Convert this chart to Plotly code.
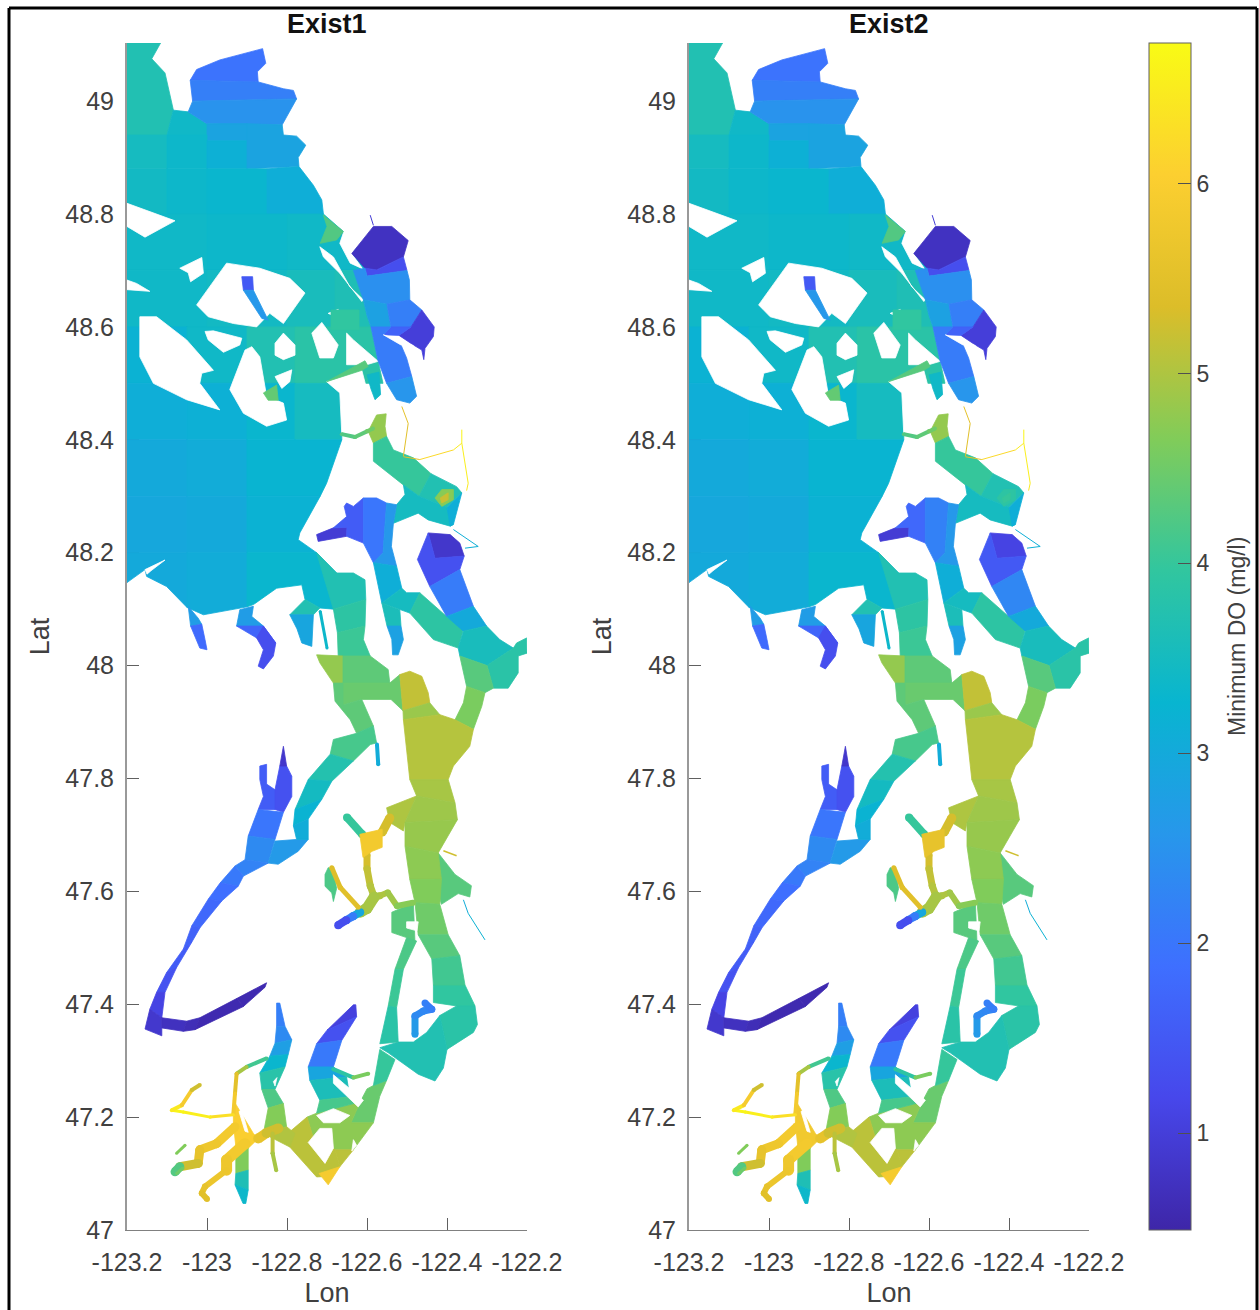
import plotly.graph_objects as go
from plotly.colors import sample_colorscale

# ---------- colour scale and axes values ----------
PARULA = ["rgb(62,38,168)", "rgb(71,71,235)", "rgb(62,111,255)", "rgb(39,151,235)", "rgb(8,181,208)",
          "rgb(49,198,159)", "rgb(129,204,89)", "rgb(220,189,41)", "rgb(252,207,48)", "rgb(249,251,21)"]
DO_MIN, DO_MAX = 0.49, 6.74
LON_TICKS = [-123.2, -123, -122.8, -122.6, -122.4, -122.2]
LON_LABELS = ["-123.2", "-123", "-122.8", "-122.6", "-122.4", "-122.2"]
LAT_TICKS = [47, 47.2, 47.4, 47.6, 47.8, 48, 48.2, 48.4, 48.6, 48.8, 49]
LAT_LABELS = ["47", "47.2", "47.4", "47.6", "47.8", "48", "48.2", "48.4", "48.6", "48.8", "49"]
DO_TICKS = [1, 2, 3, 4, 5, 6]
PANELS = ["Exist1", "Exist2"]

# ---------- water regions: (minimum DO, outline in lon/lat) ----------
GEORGIA = [
 (3.7, [(-123.2,49.103),(-123.116,49.103),(-123.138,49.075),(-123.105,49.05),(-123.084,48.984),(-123.1,48.94),(-123.2,48.94)]),
 (3.4, [(-123.1,48.94),(-123.084,48.984),(-123.047,48.981),(-123.0,48.96),(-123.0,48.94)]),
 (1.95,[(-123.042,49.037),(-123.026,49.056),(-122.968,49.073),(-122.861,49.093),(-122.853,49.067),(-122.874,49.052),(-122.872,49.034)]),
 (2.15,[(-123.042,49.037),(-122.872,49.034),(-122.809,49.022),(-122.784,49.019),(-122.776,49.004),(-123.036,49.0)]),
 (2.5, [(-123.036,49.0),(-122.776,49.004),(-122.812,48.958),(-123.0,48.96),(-123.047,48.981)]),
 (2.85,[(-123.0,48.96),(-122.9,48.96),(-122.9,48.93),(-123.0,48.93)]),
 (3.5, [(-123.2,48.94),(-123.1,48.94),(-123.1,48.88),(-123.2,48.88)]),
 (3.35,[(-123.1,48.94),(-123.0,48.94),(-123.0,48.88),(-123.1,48.88)]),
 (3.15,[(-123.0,48.93),(-122.9,48.93),(-122.9,48.88),(-123.0,48.88)]),
 (2.85,[(-122.9,48.96),(-122.812,48.958),(-122.809,48.94),(-122.776,48.938),(-122.753,48.922),(-122.772,48.9),(-122.77,48.884),(-122.9,48.88)]),
 (3.45,[(-123.2,48.88),(-123.1,48.88),(-123.1,48.8),(-123.2,48.8)]),
 (3.35,[(-123.1,48.88),(-123.0,48.88),(-123.0,48.8),(-123.1,48.8)]),
 (3.3, [(-123.0,48.88),(-122.85,48.88),(-122.85,48.8),(-123.0,48.8)]),
 (3.1, [(-122.85,48.88),(-122.77,48.884),(-122.734,48.851),(-122.713,48.825),(-122.709,48.8),(-122.85,48.8)]),
]
STRAIT = [
 (3.4, [(-123.2,48.8),(-123.0,48.8),(-123.0,48.7),(-123.2,48.7)]),
 (3.35,[(-123.0,48.8),(-122.8,48.8),(-122.8,48.7),(-123.0,48.7)]),
 (3.4, [(-122.8,48.8),(-122.709,48.8),(-122.659,48.769),(-122.6,48.72),(-122.6,48.7),(-122.8,48.7)]),
 (3.4, [(-123.2,48.7),(-123.0,48.7),(-123.0,48.6),(-123.2,48.6)]),
 (3.45,[(-123.0,48.7),(-122.8,48.7),(-122.8,48.6),(-123.0,48.6)]),
 (3.55,[(-122.8,48.7),(-122.68,48.7),(-122.68,48.6),(-122.8,48.6)]),
 (3.65,[(-122.68,48.7),(-122.63,48.7),(-122.609,48.648),(-122.6,48.62),(-122.59,48.6),(-122.68,48.6)]),
 (3.2, [(-123.2,48.6),(-123.05,48.6),(-123.05,48.5),(-123.2,48.5)]),
 (3.4, [(-123.05,48.6),(-122.9,48.6),(-122.9,48.5),(-123.05,48.5)]),
 (3.7, [(-122.9,48.6),(-122.78,48.6),(-122.78,48.5),(-122.9,48.5)]),
 (3.85,[(-122.78,48.6),(-122.59,48.6),(-122.572,48.539),(-122.56,48.5),(-122.78,48.5)]),
 (3.1, [(-123.2,48.5),(-123.05,48.5),(-123.05,48.4),(-123.2,48.4)]),
 (3.15,[(-123.05,48.5),(-122.9,48.5),(-122.9,48.4),(-123.05,48.4)]),
 (3.3, [(-122.9,48.5),(-122.78,48.5),(-122.78,48.4),(-122.9,48.4)]),
 (3.5, [(-122.78,48.5),(-122.663,48.5),(-122.663,48.4),(-122.78,48.4)]),
 (3.0, [(-123.2,48.4),(-123.05,48.4),(-123.05,48.3),(-123.2,48.3)]),
 (3.05,[(-123.05,48.4),(-122.9,48.4),(-122.9,48.3),(-123.05,48.3)]),
 (3.25,[(-122.9,48.4),(-122.663,48.4),(-122.701,48.323),(-122.717,48.3),(-122.9,48.3)]),
 (2.95,[(-123.2,48.3),(-123.05,48.3),(-123.05,48.2),(-123.2,48.2)]),
 (3.0, [(-123.05,48.3),(-122.9,48.3),(-122.9,48.2),(-123.05,48.2)]),
 (3.2, [(-122.9,48.3),(-122.717,48.3),(-122.768,48.235),(-122.772,48.223),(-122.726,48.2),(-122.9,48.2)]),
 (3.0, [(-123.2,48.2),(-123.05,48.2),(-123.05,48.103),(-123.101,48.14),(-123.151,48.158),(-123.155,48.17),(-123.2,48.147)]),
 (3.05,[(-123.05,48.2),(-122.9,48.2),(-122.9,48.104),(-123.009,48.09),(-123.05,48.103)]),
 (3.3, [(-122.9,48.2),(-122.726,48.2),(-122.676,48.164),(-122.684,48.1),(-122.718,48.102),(-122.755,48.117),(-122.763,48.143),(-122.826,48.137),(-122.884,48.108),(-122.9,48.104)]),
 (3.7, [(-122.726,48.2),(-122.676,48.164),(-122.634,48.164),(-122.605,48.152),(-122.603,48.117),(-122.684,48.1)]),
]
# islands and peninsulas that interrupt the water
LAND = [
 [(-123.2,48.819),(-123.08,48.788),(-123.155,48.759),(-123.2,48.778)],
 [(-123.2,48.683),(-123.176,48.677),(-123.143,48.663),(-123.2,48.666)],
 [(-123.068,48.704),(-123.013,48.723),(-123.009,48.695),(-123.041,48.68),(-123.047,48.696)],
 [(-123.026,48.639),(-122.951,48.713),(-122.868,48.704),(-122.793,48.686),(-122.755,48.66),(-122.809,48.606),(-122.843,48.624),(-122.876,48.6),(-122.934,48.606),(-122.997,48.618)],
 [(-123.005,48.592),(-122.984,48.593),(-122.913,48.58),(-122.918,48.568),(-122.959,48.555),(-122.997,48.577)],
 [(-123.168,48.618),(-123.126,48.618),(-123.051,48.577),(-122.984,48.523),(-123.013,48.518),(-123.018,48.5),(-122.968,48.453),(-123.051,48.471),(-123.134,48.5),(-123.168,48.547)],
 [(-122.905,48.559),(-122.888,48.565),(-122.868,48.547),(-122.851,48.477),(-122.809,48.465),(-122.801,48.435),(-122.851,48.424),(-122.909,48.447),(-122.943,48.489)],
 [(-122.83,48.571),(-122.809,48.589),(-122.78,48.568),(-122.78,48.55),(-122.809,48.542),(-122.83,48.55)],
 [(-122.83,48.512),(-122.788,48.524),(-122.793,48.503),(-122.813,48.491)],
 [(-122.738,48.589),(-122.713,48.608),(-122.672,48.568),(-122.684,48.545),(-122.718,48.545),(-122.726,48.562)],
 [(-122.697,48.624),(-122.672,48.631),(-122.659,48.612)],
 [(-122.718,48.742),(-122.684,48.724),(-122.643,48.671),(-122.609,48.648),(-122.613,48.645),(-122.668,48.695),(-122.709,48.724)],
 [(-122.658,48.769),(-122.584,48.78),(-122.638,48.73),(-122.611,48.703),(-122.642,48.713),(-122.668,48.748)],
 [(-122.651,48.589),(-122.634,48.577),(-122.572,48.539),(-122.601,48.533),(-122.651,48.533)],
 [(-122.701,48.503),(-122.613,48.523),(-122.597,48.48),(-122.58,48.471),(-122.569,48.477),(-122.574,48.497),(-122.551,48.497),(-122.526,48.468),(-122.551,48.447),(-122.576,48.447),(-122.609,48.424),(-122.663,48.409),(-122.668,48.483)],
 [(-123.155,48.17),(-123.105,48.187),(-123.14,48.168),(-123.15,48.162)],
 [(-122.334,48.022),(-122.305,48.008),(-122.313,48.005),(-122.334,48.016)],
]
SAN_JUAN_INLETS = [
 (4.25,[(-122.709,48.798),(-122.659,48.769),(-122.676,48.754),(-122.717,48.748),(-122.7,48.778)]),
 (1.5, [(-122.913,48.689),(-122.886,48.689),(-122.884,48.665),(-122.909,48.665)]),
 (2.6, [(-122.909,48.665),(-122.884,48.665),(-122.847,48.612),(-122.863,48.615)]),
 (4.4, [(-122.859,48.483),(-122.826,48.497),(-122.822,48.47),(-122.847,48.47)]),
 (4.3, [(-122.701,48.503),(-122.605,48.54),(-122.597,48.53),(-122.613,48.523)]),
 (3.4, [(-122.6,48.515),(-122.57,48.52),(-122.566,48.48),(-122.58,48.471),(-122.59,48.49)]),
 (3.95,[(-122.69,48.63),(-122.62,48.63),(-122.62,48.595),(-122.69,48.595)]),
]
BELLINGHAM = [
 (0.75,[(-122.638,48.73),(-122.584,48.778),(-122.538,48.778),(-122.497,48.753),(-122.509,48.724),(-122.576,48.701),(-122.605,48.704)]),
 (1.3, [(-122.605,48.704),(-122.576,48.701),(-122.509,48.724),(-122.5,48.7),(-122.6,48.69)]),
 (2.45,[(-122.634,48.7),(-122.605,48.704),(-122.6,48.69),(-122.5,48.7),(-122.494,48.683),(-122.493,48.648),(-122.55,48.64),(-122.609,48.648)]),
 (2.8, [(-122.609,48.648),(-122.55,48.64),(-122.54,48.6),(-122.59,48.6),(-122.6,48.62)]),
 (2.15,[(-122.55,48.64),(-122.493,48.648),(-122.463,48.63),(-122.49,48.6),(-122.54,48.6)]),
 (1.0, [(-122.463,48.63),(-122.432,48.6),(-122.434,48.583),(-122.455,48.562),(-122.458,48.542),(-122.463,48.559),(-122.484,48.568),(-122.52,48.585),(-122.49,48.6)]),
 (1.65,[(-122.54,48.6),(-122.49,48.6),(-122.52,48.585),(-122.559,48.586)]),
 (2.1, [(-122.59,48.6),(-122.54,48.6),(-122.559,48.586),(-122.515,48.568),(-122.501,48.545),(-122.488,48.512),(-122.551,48.5),(-122.572,48.539)]),
 (2.55,[(-122.551,48.5),(-122.488,48.512),(-122.476,48.477),(-122.493,48.465),(-122.526,48.471)]),
]
SPIT_SLIVER = [(-122.559,48.586),(-122.484,48.567),(-122.515,48.568),(-122.545,48.58)]
OLYMPIC_BAYS = [
 (2.7, [(-123.047,48.105),(-123.022,48.084),(-123.013,48.073),(-123.041,48.07)]),
 (1.8, [(-123.041,48.07),(-123.013,48.073),(-123.005,48.046),(-123.0,48.028),(-123.018,48.031)]),
 (2.7, [(-122.918,48.099),(-122.884,48.105),(-122.888,48.087),(-122.859,48.07),(-122.926,48.07)]),
 (1.7, [(-122.926,48.07),(-122.859,48.07),(-122.828,48.04),(-122.859,48.046),(-122.876,48.049)]),
 (1.3, [(-122.876,48.049),(-122.859,48.07),(-122.828,48.04),(-122.834,48.017),(-122.859,47.994),(-122.872,47.999),(-122.859,48.028)]),
 (3.7, [(-122.793,48.09),(-122.755,48.117),(-122.718,48.102),(-122.734,48.09)]),
 (2.9, [(-122.793,48.09),(-122.734,48.09),(-122.738,48.034),(-122.763,48.04),(-122.775,48.065)]),
]
ADMIRALTY = [
 (3.9, [(-122.684,48.1),(-122.603,48.117),(-122.605,48.07),(-122.674,48.058)]),
 (4.05,[(-122.674,48.058),(-122.605,48.07),(-122.609,48.046),(-122.592,48.017),(-122.672,48.017)]),
 (4.8, [(-122.726,48.019),(-122.66,48.017),(-122.66,47.969),(-122.684,47.969),(-122.718,48.005)]),
 (4.35,[(-122.66,48.017),(-122.592,48.017),(-122.547,47.993),(-122.543,47.969),(-122.66,47.969)]),
 (4.45,[(-122.66,47.969),(-122.543,47.969),(-122.518,47.984),(-122.51,47.92),(-122.54,47.94),(-122.613,47.94),(-122.66,47.93)]),
 (4.35,[(-122.684,47.969),(-122.66,47.969),(-122.66,47.93),(-122.613,47.94),(-122.584,47.893),(-122.626,47.88),(-122.642,47.904),(-122.68,47.937)]),
 (4.15,[(-122.626,47.88),(-122.584,47.893),(-122.576,47.863),(-122.592,47.86),(-122.634,47.831),(-122.692,47.843),(-122.684,47.869)]),
 (3.75,[(-122.692,47.843),(-122.634,47.831),(-122.688,47.795),(-122.747,47.798)]),
]
MAIN_BASIN = [
 (5.15,[(-122.518,47.984),(-122.493,47.99),(-122.463,47.981),(-122.447,47.952),(-122.443,47.934),(-122.51,47.92)]),
 (4.85,[(-122.509,47.904),(-122.51,47.92),(-122.443,47.934),(-122.418,47.913)]),
 (4.3, [(-122.368,48.017),(-122.3,48.0),(-122.284,47.96),(-122.305,47.952),(-122.351,47.963)]),
 (4.6, [(-122.351,47.963),(-122.305,47.952),(-122.313,47.928),(-122.334,47.887),(-122.38,47.904),(-122.359,47.934)]),
 (5.05,[(-122.509,47.904),(-122.418,47.913),(-122.38,47.904),(-122.334,47.887),(-122.343,47.857),(-122.384,47.822),(-122.397,47.798),(-122.493,47.798)]),
 (5.0, [(-122.551,47.748),(-122.476,47.769),(-122.505,47.722),(-122.509,47.707),(-122.543,47.722)]),
 (4.3, [(-122.422,47.668),(-122.38,47.63),(-122.339,47.61),(-122.343,47.59),(-122.372,47.596),(-122.414,47.577),(-122.43,47.62)]),
 (4.3, [(-122.538,47.563),(-122.484,47.58),(-122.48,47.509),(-122.501,47.518),(-122.538,47.527)]),
 (3.95,[(-122.434,47.434),(-122.355,47.434),(-122.33,47.397),(-122.376,47.397),(-122.434,47.403)]),
 (3.85,[(-122.376,47.397),(-122.33,47.397),(-122.324,47.364),(-122.334,47.35),(-122.4,47.32),(-122.418,47.38)]),
 (3.7, [(-122.418,47.38),(-122.4,47.32),(-122.409,47.287),(-122.43,47.264),(-122.472,47.276),(-122.547,47.314),(-122.568,47.323),(-122.522,47.333),(-122.484,47.333),(-122.451,47.35)]),
]
MAIN_HOLES = [
 [(-122.501,47.546),(-122.472,47.546),(-122.475,47.53),(-122.501,47.535)],
 [(-122.834,47.263),(-122.825,47.27),(-122.83,47.255)],
]
SKAGIT = [
 (4.8, [(-122.576,48.444),(-122.552,48.446),(-122.555,48.424),(-122.551,48.406),(-122.584,48.394),(-122.597,48.415)]),
 (4.0, [(-122.584,48.394),(-122.551,48.406),(-122.534,48.382),(-122.484,48.368),(-122.44,48.34),(-122.47,48.3),(-122.509,48.32),(-122.551,48.344),(-122.584,48.362)]),
 (3.7, [(-122.44,48.34),(-122.376,48.317),(-122.363,48.306),(-122.4,48.28),(-122.47,48.3)]),
 (3.5, [(-122.509,48.32),(-122.47,48.3),(-122.4,48.28),(-122.384,48.25),(-122.392,48.247),(-122.447,48.258),(-122.472,48.27),(-122.534,48.252),(-122.526,48.285),(-122.505,48.303)]),
 (3.1, [(-122.392,48.247),(-122.384,48.25),(-122.363,48.306),(-122.4,48.28)]),
]
SKAGIT_HOTSPOT = [
 (4.7, [(-122.43,48.297),(-122.413,48.312),(-122.384,48.312),(-122.384,48.294),(-122.413,48.282)]),
 (5.2, [(-122.417,48.297),(-122.397,48.306),(-122.397,48.294),(-122.413,48.288)]),
]
SARATOGA = [
 (0.95,[(-122.726,48.232),(-122.684,48.244),(-122.65,48.245),(-122.651,48.229),(-122.722,48.22)]),
 (1.55,[(-122.684,48.244),(-122.651,48.264),(-122.657,48.282),(-122.651,48.288),(-122.634,48.282),(-122.609,48.297),(-122.609,48.217),(-122.651,48.229),(-122.65,48.245)]),
 (2.0, [(-122.609,48.297),(-122.576,48.297),(-122.551,48.288),(-122.56,48.2),(-122.584,48.182),(-122.609,48.217)]),
 (2.6, [(-122.551,48.288),(-122.526,48.285),(-122.534,48.252),(-122.539,48.211),(-122.526,48.176),(-122.584,48.182),(-122.56,48.2)]),
 (3.1, [(-122.584,48.182),(-122.526,48.176),(-122.513,48.137),(-122.563,48.111)]),
 (3.5, [(-122.563,48.111),(-122.513,48.137),(-122.501,48.129),(-122.468,48.129),(-122.493,48.093),(-122.518,48.099)]),
 (3.6, [(-122.563,48.111),(-122.518,48.099),(-122.515,48.07),(-122.55,48.07)]),
 (2.8, [(-122.55,48.07),(-122.515,48.07),(-122.509,48.046),(-122.522,48.019),(-122.536,48.019),(-122.538,48.046)]),
 (3.9, [(-122.468,48.129),(-122.401,48.087),(-122.359,48.064),(-122.372,48.031),(-122.434,48.046),(-122.493,48.093)]),
]
PORT_SUSAN = [
 (0.85,[(-122.447,48.235),(-122.392,48.232),(-122.368,48.217),(-122.357,48.194),(-122.43,48.19)]),
 (1.35,[(-122.447,48.235),(-122.43,48.19),(-122.357,48.194),(-122.368,48.17),(-122.443,48.14),(-122.474,48.188)]),
 (2.1, [(-122.443,48.14),(-122.368,48.17),(-122.334,48.105),(-122.401,48.087)]),
 (3.0, [(-122.401,48.087),(-122.334,48.105),(-122.301,48.07),(-122.359,48.061)]),
 (3.55,[(-122.359,48.061),(-122.301,48.07),(-122.268,48.046),(-122.234,48.031),(-122.3,48.0),(-122.368,48.017),(-122.372,48.031)]),
 (3.85,[(-122.234,48.031),(-122.226,48.04),(-122.201,48.049),(-122.2,48.022),(-122.222,48.017),(-122.222,47.987),(-122.247,47.96),(-122.284,47.96),(-122.3,48.0)]),
]
SOUTH_SOUND = [
 (4.45,[(-122.584,47.256),(-122.551,47.265),(-122.568,47.237),(-122.584,47.19),(-122.64,47.19),(-122.617,47.227),(-122.6,47.25)]),
 (4.75,[(-122.726,47.207),(-122.617,47.227),(-122.64,47.19),(-122.584,47.19),(-122.634,47.142),(-122.68,47.142),(-122.735,47.165),(-122.75,47.2)]),
 (5.1, [(-122.75,47.2),(-122.735,47.165),(-122.68,47.142),(-122.668,47.112),(-122.697,47.095),(-122.726,47.094),(-122.793,47.147),(-122.8,47.17)]),
 (5.1, [(-122.68,47.142),(-122.634,47.142),(-122.668,47.112)]),
 (5.9, [(-122.72,47.1),(-122.668,47.112),(-122.697,47.08)]),
 (4.2, [(-122.697,47.642),(-122.684,47.64),(-122.676,47.605),(-122.684,47.582),(-122.688,47.597),(-122.705,47.609),(-122.705,47.63)]),
 (6.0, [(-122.934,47.23),(-122.884,47.171),(-122.872,47.162),(-122.901,47.142),(-122.928,47.148),(-122.934,47.189)]),
]
DYES_INLET = [(5.85,[(-122.618,47.701),(-122.562,47.71),(-122.562,47.678),(-122.587,47.671),(-122.61,47.66),(-122.613,47.674)])]
SOUTH_ISLANDS = [
 [(-122.913,47.212),(-122.897,47.173),(-122.905,47.175),(-122.92,47.21)],
 [(-122.726,47.203),(-122.684,47.215),(-122.643,47.203),(-122.668,47.19),(-122.709,47.19)],
 [(-122.747,47.155),(-122.718,47.18),(-122.688,47.18),(-122.684,47.145),(-122.705,47.118),(-122.734,47.145)],
 [(-122.634,47.16),(-122.626,47.15),(-122.638,47.14)],
 [(-122.684,47.275),(-122.609,47.23),(-122.622,47.218),(-122.684,47.26)],
]
HOOD_UPPER = [
 (1.55,[(-122.868,47.822),(-122.851,47.825),(-122.851,47.79),(-122.83,47.78),(-122.83,47.745),(-122.872,47.745),(-122.859,47.768),(-122.868,47.798)]),
 (1.35,[(-122.83,47.78),(-122.818,47.822),(-122.801,47.822),(-122.788,47.804),(-122.788,47.768),(-122.809,47.74),(-122.83,47.745)]),
 (0.85,[(-122.818,47.822),(-122.809,47.857),(-122.801,47.822)]),
 (2.0, [(-122.872,47.745),(-122.809,47.74),(-122.83,47.692),(-122.897,47.698)]),
 (2.35,[(-122.897,47.698),(-122.83,47.692),(-122.847,47.65),(-122.905,47.656)]),
 (2.65,[(-122.776,47.692),(-122.747,47.692),(-122.772,47.671),(-122.822,47.648),(-122.847,47.65),(-122.83,47.689)]),
]

# ---------- channels given as cross-sections: (lon A, lat A, lon B, lat B, DO) ----------
HOOD_ARM = [(-122.905,47.656,-122.847,47.65,2.3),(-122.93,47.645,-122.909,47.627,2.15),(-122.967,47.615,-122.922,47.609,1.95),
            (-122.997,47.586,-122.963,47.583,1.8),(-123.038,47.539,-123.017,47.536,1.7),(-123.059,47.498,-123.038,47.51,1.6),
            (-123.101,47.456,-123.076,47.465,1.5),(-123.126,47.421,-123.105,47.421,1.25),(-123.143,47.391,-123.113,47.376,0.95),
            (-123.155,47.356,-123.113,47.344,0.8)]
HOOD_BEND = [(-123.113,47.376,-123.113,47.358,0.75),(-123.051,47.37,-123.059,47.352,0.7),(-123.018,47.376,-123.03,47.355,0.6),
             (-122.926,47.41,-122.909,47.396,0.55),(-122.851,47.438,-122.855,47.43,0.6)]
HOOD_NECK = [(-122.747,47.798,-122.688,47.795,3.65),(-122.78,47.745,-122.713,47.763,3.3),(-122.784,47.716,-122.747,47.728,3.15),
             (-122.776,47.692,-122.747,47.692,2.95)]
MAIN_CHANNEL = [(-122.493,47.798,-122.397,47.798,5.0),(-122.476,47.769,-122.38,47.757,4.9),(-122.505,47.722,-122.374,47.727,4.85),
                (-122.505,47.68,-122.422,47.668,4.8),(-122.493,47.621,-122.414,47.621,4.7),(-122.48,47.58,-122.418,47.577,4.6),
                (-122.472,47.523,-122.397,47.523,4.4),(-122.438,47.48,-122.368,47.486,4.2),(-122.434,47.434,-122.355,47.434,4.0)]
COLVOS = [(-122.501,47.518,-122.476,47.512,4.25),(-122.53,47.462,-122.509,47.462,4.15),(-122.547,47.397,-122.526,47.394,3.95),
          (-122.568,47.33,-122.522,47.333,3.75)]
NARROWS = [(-122.568,47.32,-122.53,47.302,3.9),(-122.584,47.256,-122.551,47.265,4.1)]
CARR = [(-122.634,47.399,-122.628,47.399,1.0),(-122.7,47.354,-122.626,47.378,1.1),(-122.726,47.33,-122.663,47.336,1.6),
        (-122.747,47.289,-122.684,47.289,2.5),(-122.743,47.265,-122.651,47.271,3.3),(-122.718,47.23,-122.643,47.236,3.9),
        (-122.726,47.207,-122.617,47.227,4.4)]
CASE = [(-122.826,47.402,-122.818,47.402,2.1),(-122.826,47.361,-122.805,47.361,2.2),(-122.83,47.331,-122.788,47.337,2.5),
        (-122.843,47.308,-122.797,47.311,3.0),(-122.868,47.278,-122.805,47.289,3.6),(-122.863,47.249,-122.83,47.249,4.05),
        (-122.847,47.216,-122.809,47.224,4.4),(-122.859,47.171,-122.801,47.183,4.95),(-122.793,47.147,-122.78,47.171,5.1)]
BUDD = [(-122.928,47.148,-122.897,47.15,5.3),(-122.928,47.1,-122.897,47.106,4.0),(-122.93,47.08,-122.897,47.071,3.3),
        (-122.91,47.047,-122.903,47.047,3.4)]
RIBBONS = [HOOD_ARM, HOOD_BEND, HOOD_NECK, MAIN_CHANNEL, COLVOS, NARROWS, CARR, CASE, BUDD]

# ---------- narrow channels and rivers: (lon, lat, DO) ----------
CHANNELS = {
 "deception": [(-122.663,48.41,4.2),(-122.63,48.405,4.3),(-122.6,48.415,4.4),(-122.585,48.42,4.6)],
 "kilisut": [(-122.717,48.096,3.5),(-122.7,48.031,3.2)],
 "gamble": [(-122.575,47.86,3.2),(-122.572,47.825,2.9)],
 "peale": [(-122.851,47.304,3.6),(-122.901,47.289,4.6),(-122.926,47.277,5.3),(-122.93,47.242,5.7),(-122.934,47.206,6.0)],
 "pickering": [(-122.872,47.162,5.8),(-122.851,47.172,5.4),(-122.822,47.18,5.1)],
 "south_arm": [(-122.836,47.171,5.2),(-122.836,47.136,5.0),(-122.827,47.106,4.9)],
 "hammersley": [(-122.934,47.204,6.1),(-122.992,47.2,6.5),(-123.059,47.209,6.6),(-123.088,47.212,6.7)],
 "oakland": [(-123.088,47.212,6.6),(-123.063,47.221,6.3),(-123.038,47.248,5.5),(-123.018,47.257,5.0)],
 "totten": [(-122.93,47.183,5.9),(-122.976,47.153,5.8),(-123.018,47.142,5.7),(-123.022,47.118,5.5),(-123.068,47.112,5.0),(-123.08,47.103,3.5)],
 "totten_branch": [(-123.076,47.136,4.5),(-123.055,47.15,4.8)],
 "eld_upper": [(-122.905,47.153,5.9),(-122.951,47.124,5.8),(-122.951,47.106,5.7)],
 "eld_lower": [(-122.951,47.106,5.7),(-123.005,47.077,5.7),(-123.013,47.065,5.5),(-123.0,47.055,5.4)],
 "rich": [(-122.568,47.592,5.0),(-122.548,47.598,5.0),(-122.525,47.574,4.8),(-122.485,47.58,4.6)],
 "port_orchard": [(-122.6,47.665,5.4),(-122.6,47.64,5.2),(-122.592,47.61,5.1),(-122.582,47.59,5.0),(-122.568,47.592,5.0)],
 "sinclair": [(-122.582,47.59,4.9),(-122.6,47.57,5.0),(-122.617,47.563,4.9)],
 "sinclair_tail": [(-122.617,47.563,3.5),(-122.635,47.556,2.4),(-122.652,47.549,1.8),(-122.672,47.54,0.8)],
 "dyes_link": [(-122.562,47.705,5.4),(-122.543,47.73,5.2)],
 "dyes_arm": [(-122.65,47.731,3.4),(-122.612,47.701,4.6)],
 "liberty": [(-122.688,47.642,5.2),(-122.667,47.607,5.6),(-122.622,47.572,5.3)],
 "quartermaster": [(-122.48,47.347,2.9),(-122.48,47.379,2.4),(-122.459,47.388,2.3),(-122.438,47.391,2.3),(-122.455,47.402,2.0)],
 "burley": [(-122.684,47.285,3.6),(-122.634,47.27,4.2),(-122.597,47.277,5.0)],
 "henderson": [(-123.076,47.1,4.0),(-123.06,47.11,5.0)],
 "duwamish": [(-122.359,47.585,3.0),(-122.347,47.561,3.1),(-122.305,47.514,3.3)],
 "skagit_n": [(-122.513,48.459,5.6),(-122.497,48.429,5.5),(-122.509,48.371,5.4)],
 "skagit_s": [(-122.509,48.37,5.0),(-122.468,48.365,6.0),(-122.384,48.382,6.4),(-122.363,48.394,6.6),(-122.363,48.418,6.7)],
 "skagit_r": [(-122.363,48.394,6.6),(-122.347,48.323,6.5),(-122.351,48.31,6.4)],
 "stilly": [(-122.384,48.241,3.0),(-122.322,48.211,3.2),(-122.355,48.208,3.1)],
 "nooksack": [(-122.592,48.798,1.0),(-122.584,48.78,0.9)],
 "cedar": [(-122.409,47.672,5.3),(-122.376,47.663,5.2)],
}
CHANNEL_WIDTH = {"deception":4,"kilisut":3,"gamble":4,"peale":4,"pickering":10,"south_arm":4,"hammersley":3,"oakland":4,
                 "totten":9,"totten_branch":3,"eld_upper":11,"eld_lower":6,"rich":6,"port_orchard":7,"sinclair":11,
                 "sinclair_tail":8,"dyes_link":9,"dyes_arm":8,"liberty":5,"quartermaster":7,"burley":4,"henderson":3,
                 "duwamish":1,"skagit_n":1,"skagit_s":1,"skagit_r":1,"stilly":1,"nooksack":1,"cedar":1.5}

# Exist2 differs from Exist1 only in a few places: (list name, index) -> DO
EXIST2 = {
 ("PORT_SUSAN",0):1.1, ("PORT_SUSAN",1):1.5, ("PORT_SUSAN",2):2.3,
 ("SKAGIT_HOTSPOT",0):3.9, ("SKAGIT_HOTSPOT",1):4.0,
 ("DYES_INLET",0):5.6, ("SOUTH_SOUND",6):5.8,
 ("SARATOGA",1):1.75,("SARATOGA",2):2.2,
}

def colour(v):
    t = min(1, max(0, (v - DO_MIN) / (DO_MAX - DO_MIN)))
    return sample_colorscale(PARULA, [t])[0]

fig = go.Figure()

def area(xa, ya, pts, col):
    fig.add_trace(go.Scatter(x=[p[0] for p in pts] + [pts[0][0]], y=[p[1] for p in pts] + [pts[0][1]],
                             mode="lines", fill="toself", fillcolor=col, line=dict(color=col, width=0.8),
                             hoverinfo="skip", showlegend=False, xaxis=xa, yaxis=ya))

def group(xa, ya, name, items, panel):
    for i, (v, pts) in enumerate(items):
        if panel == 1:
            v = EXIST2.get((name, i), v)
        area(xa, ya, pts, colour(v))

for panel in (0, 1):
    xa, ya = ("x", "y") if panel == 0 else ("x2", "y2")
    group(xa, ya, "GEORGIA", GEORGIA, panel)
    group(xa, ya, "STRAIT", STRAIT, panel)
    for pts in LAND:
        area(xa, ya, pts, "white")
    group(xa, ya, "SAN_JUAN_INLETS", SAN_JUAN_INLETS, panel)
    group(xa, ya, "BELLINGHAM", BELLINGHAM, panel)
    area(xa, ya, SPIT_SLIVER, "white")
    group(xa, ya, "OLYMPIC_BAYS", OLYMPIC_BAYS, panel)
    group(xa, ya, "ADMIRALTY", ADMIRALTY, panel)
    group(xa, ya, "SKAGIT", SKAGIT, panel)
    group(xa, ya, "SKAGIT_HOTSPOT", SKAGIT_HOTSPOT, panel)
    group(xa, ya, "SARATOGA", SARATOGA, panel)
    group(xa, ya, "PORT_SUSAN", PORT_SUSAN, panel)
    group(xa, ya, "MAIN_BASIN", MAIN_BASIN, panel)
    group(xa, ya, "HOOD_UPPER", HOOD_UPPER, panel)
    group(xa, ya, "SOUTH_SOUND", SOUTH_SOUND, panel)
    for rib in RIBBONS:
        for a, b in zip(rib[:-1], rib[1:]):
            area(xa, ya, [(a[0],a[1]),(a[2],a[3]),(b[2],b[3]),(b[0],b[1])], colour((a[4]+b[4])/2))
    for pts in MAIN_HOLES + SOUTH_ISLANDS:
        area(xa, ya, pts, "white")
    for name, pts in CHANNELS.items():
        wd = CHANNEL_WIDTH[name]
        for a, b in zip(pts[:-1], pts[1:]):
            col = colour((a[2]+b[2])/2)
            fig.add_trace(go.Scatter(x=[a[0],b[0]], y=[a[1],b[1]], mode="lines+markers" if wd >= 3 else "lines",
                                     hoverinfo="skip", showlegend=False, marker=dict(color=col, size=wd),
                                     line=dict(color=col, width=wd), xaxis=xa, yaxis=ya))
    group(xa, ya, "DYES_INLET", DYES_INLET, panel)

W, H = 1259, 1310
ML, MR, MT, MB = 20, 4, 4, 4
def fx(px):
    return (px - ML) / (W - ML - MR)
def fy(py):
    return (H - MB - py) / (H - MT - MB)
TXT = "#404040"
FONT = "Liberation Sans"
fig.add_trace(go.Scatter(x=[-123.2, -123.2], y=[47, 47], mode="markers", hoverinfo="skip", showlegend=False,
    marker=dict(size=0.1, opacity=0, color=[DO_MIN, DO_MAX], cmin=DO_MIN, cmax=DO_MAX, colorscale=PARULA, showscale=True,
    colorbar=dict(x=fx(1149), xanchor="left", xpad=0, y=fy(1230), yanchor="bottom", ypad=0, len=fy(43)-fy(1230), lenmode="fraction",
                  thickness=42, thicknessmode="pixels", outlinecolor="#606060", outlinewidth=1,
                  ticks="inside", ticklen=13, tickcolor="#505050", tickwidth=1, tickvals=DO_TICKS,
                  tickfont=dict(family=FONT, size=23, color=TXT)))))

def xaxis(l):
    return dict(domain=[fx(l), fx(l+400)], range=[-123.2, -122.2], tickvals=LON_TICKS, ticktext=LON_LABELS, ticks="inside",
                ticklen=12, tickcolor="#606060", showline=True, linecolor="#808080", linewidth=1, showgrid=False, zeroline=False,
                layer="below traces", tickfont=dict(family=FONT, size=25, color=TXT), ticklabelstandoff=10, automargin=False,
                title=dict(text="Lon", font=dict(family=FONT, size=27, color=TXT), standoff=8))
def yaxis():
    return dict(domain=[fy(1230), fy(43)], range=[47, 49.103], tickvals=LAT_TICKS, ticktext=LAT_LABELS, ticks="inside",
                ticklen=12, tickcolor="#606060", showline=True, linecolor="#999999", linewidth=2, showgrid=False, zeroline=False,
                layer="below traces", tickfont=dict(family=FONT, size=25, color=TXT), ticklabelstandoff=6, automargin=False,
                title=dict(text="Lat", font=dict(family=FONT, size=27, color=TXT), standoff=8))

fig.update_layout(width=W, height=H, margin=dict(l=ML, r=MR, t=MT, b=MB), paper_bgcolor="white", plot_bgcolor="white",
    xaxis=dict(xaxis(127), anchor="y"), yaxis=dict(yaxis(), anchor="x"),
    xaxis2=dict(xaxis(689), anchor="y2"), yaxis2=dict(yaxis(), anchor="x2"),
    annotations=[dict(text=f"<b>{t}</b>", x=fx(cx), y=fy(24), xref="paper", yref="paper", showarrow=False,
                      font=dict(family=FONT, size=27, color="#111111"), xanchor="center", yanchor="middle")
                 for t, cx in zip(PANELS, (327, 889))] +
                [dict(text="Minimum DO (mg/l)", x=fx(1237), y=fy(637), xref="paper", yref="paper", showarrow=False, textangle=-90,
                      font=dict(family=FONT, size=23, color=TXT), xanchor="center", yanchor="middle")],
    shapes=[dict(type="line", xref="paper", yref="paper", x0=fx(x0), x1=fx(x1), y0=fy(y0), y1=fy(y1), line=dict(color="black", width=3))
            for x0, y0, x1, y1 in [(9,8,1257,8),(9,8,9,1310),(1257,8,1257,1310)]])

fig.write_html("out.html", config=dict(displayModeBar=False),
               post_script="document.body.style.margin='0';document.body.style.overflow='hidden';")
